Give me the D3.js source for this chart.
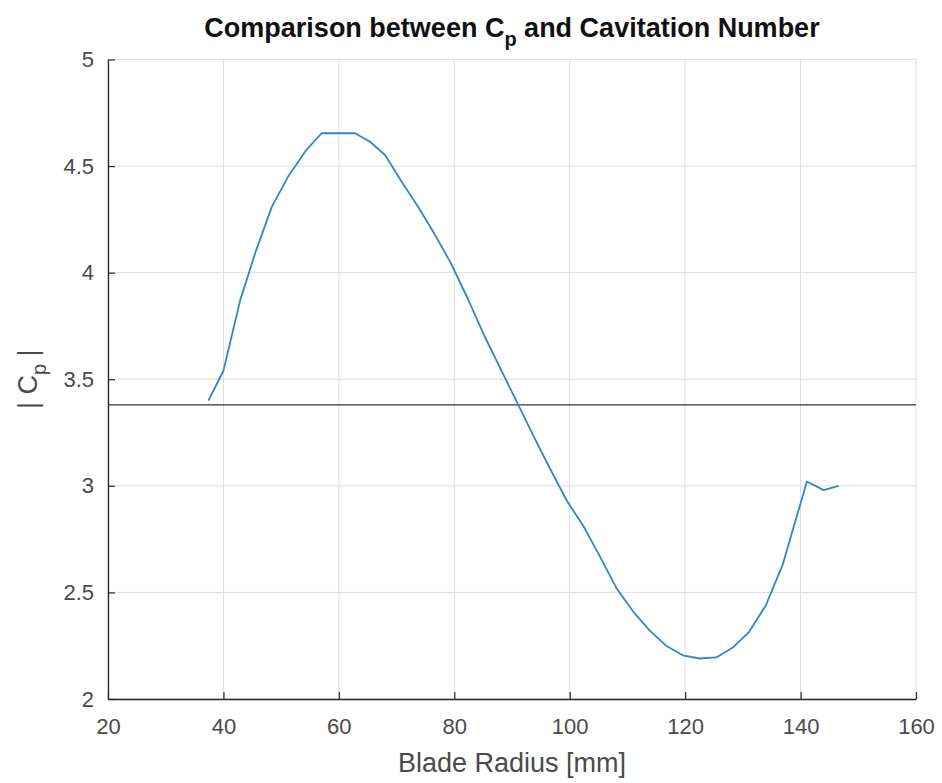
<!DOCTYPE html>
<html>
<head>
<meta charset="utf-8">
<script src="https://cdn.jsdelivr.net/npm/d3@7"></script>
<style>
  html, body { margin: 0; padding: 0; background: #fff; }
  svg { display: block; font-family: "Liberation Sans", Arial, Helvetica, sans-serif; }
</style>
</head>
<body>
<svg id="chart" width="942" height="783"></svg>
<script>
// ---- data ----
const bladeRadius = [37.4, 40.0, 42.9, 45.6, 48.4, 51.3, 54.2, 57.0, 59.9, 62.8,
  65.4, 68.0, 70.8, 73.7, 76.6, 79.4, 82.3, 85.1, 88.0, 90.9,
  93.8, 96.6, 99.5, 102.4, 105.2, 108.1, 111.0, 113.9, 116.7, 119.6,
  122.5, 125.4, 128.2, 131.1, 134.0, 136.9, 139.8, 141.1, 144.0, 146.6];
const cpAbs = [3.40, 3.54, 3.87, 4.10, 4.31, 4.455, 4.57, 4.654, 4.654, 4.654,
  4.614, 4.552, 4.43, 4.31, 4.18, 4.045, 3.88, 3.71, 3.55, 3.39,
  3.23, 3.08, 2.93, 2.81, 2.67, 2.52, 2.41, 2.32, 2.25, 2.205,
  2.19, 2.195, 2.24, 2.315, 2.44, 2.63, 2.90, 3.02, 2.98, 3.00];
const cavitationNumber = 3.38;
const xTicks = [20, 40, 60, 80, 100, 120, 140, 160];
const yTicks = [2, 2.5, 3, 3.5, 4, 4.5, 5];
const xDomain = [20, 160];
const yDomain = [2, 5];

// ---- layout ----
const mLeft = 108, mRight = 916, mTop = 59.5, mBottom = 699;
const svg = d3.select("#chart");
const x = d3.scaleLinear().domain(xDomain).range([mLeft, mRight]);
const y = d3.scaleLinear().domain(yDomain).range([mBottom, mTop]);
const axisColor = "#262626";
const gridColor = "#dedede";

// grid
svg.append("g").selectAll("line").data(xTicks).join("line")
  .attr("x1", d => x(d)).attr("x2", d => x(d))
  .attr("y1", mTop).attr("y2", mBottom)
  .attr("stroke", gridColor).attr("stroke-width", 1);
svg.append("g").selectAll("line").data(yTicks).join("line")
  .attr("x1", mLeft).attr("x2", mRight)
  .attr("y1", d => y(d)).attr("y2", d => y(d))
  .attr("stroke", gridColor).attr("stroke-width", 1);

// axes
const xAxis = d3.axisBottom(x).tickValues(xTicks).tickFormat(d3.format("d"))
  .tickSizeInner(-7).tickSizeOuter(0).tickPadding(19);
const gx = svg.append("g").attr("transform", `translate(0,${mBottom})`).call(xAxis);
const yAxis = d3.axisLeft(y).tickValues(yTicks).tickFormat(d => String(d))
  .tickSizeInner(-7).tickSizeOuter(0).tickPadding(14);
const gy = svg.append("g").attr("transform", `translate(${mLeft},0)`).call(yAxis);

[gx, gy].forEach(g => {
  g.select(".domain").attr("stroke", axisColor).attr("stroke-width", 1.3);
  g.selectAll(".tick line").attr("stroke", axisColor).attr("stroke-width", 1.2);
  g.selectAll(".tick text").attr("fill", "#4a4a4a")
    .style("font-size", "22px").style("font-family", "Liberation Sans, Arial, sans-serif");
});

// cavitation number line
svg.append("line")
  .attr("x1", x(xDomain[0])).attr("x2", x(xDomain[1]))
  .attr("y1", y(cavitationNumber)).attr("y2", y(cavitationNumber))
  .attr("stroke", "#333333").attr("stroke-width", 1.2);

// curve
const pts = bladeRadius.map((r, i) => [r, cpAbs[i]]);
svg.append("path")
  .datum(pts)
  .attr("fill", "none")
  .attr("stroke", "#2f87c8")
  .attr("stroke-width", 1.8)
  .attr("stroke-linejoin", "round")
  .attr("d", d3.line().x(d => x(d[0])).y(d => y(d[1])));

// title
const title = svg.append("text")
  .attr("x", (mLeft + mRight) / 2).attr("y", 37)
  .attr("text-anchor", "middle")
  .attr("fill", "#111")
  .style("font-size", "27px").style("font-weight", "bold");
title.append("tspan").text("Comparison between C");
title.append("tspan").text("p").attr("dy", 9).style("font-size", "20px");
title.append("tspan").text(" and Cavitation Number").attr("dy", -9);

// x label
svg.append("text")
  .attr("x", (mLeft + mRight) / 2).attr("y", 772)
  .attr("text-anchor", "middle")
  .attr("fill", "#4a4a4a")
  .style("font-size", "27px")
  .text("Blade Radius [mm]");

// y label
const yl = svg.append("text")
  .attr("transform", `translate(37,${(mTop + mBottom) / 2}) rotate(-90)`)
  .attr("text-anchor", "middle")
  .attr("fill", "#4a4a4a")
  .style("font-size", "27px");
yl.append("tspan").text("| C");
yl.append("tspan").text("p").attr("dy", 9).style("font-size", "20px");
yl.append("tspan").text(" |").attr("dy", -9);
</script>
</body>
</html>
